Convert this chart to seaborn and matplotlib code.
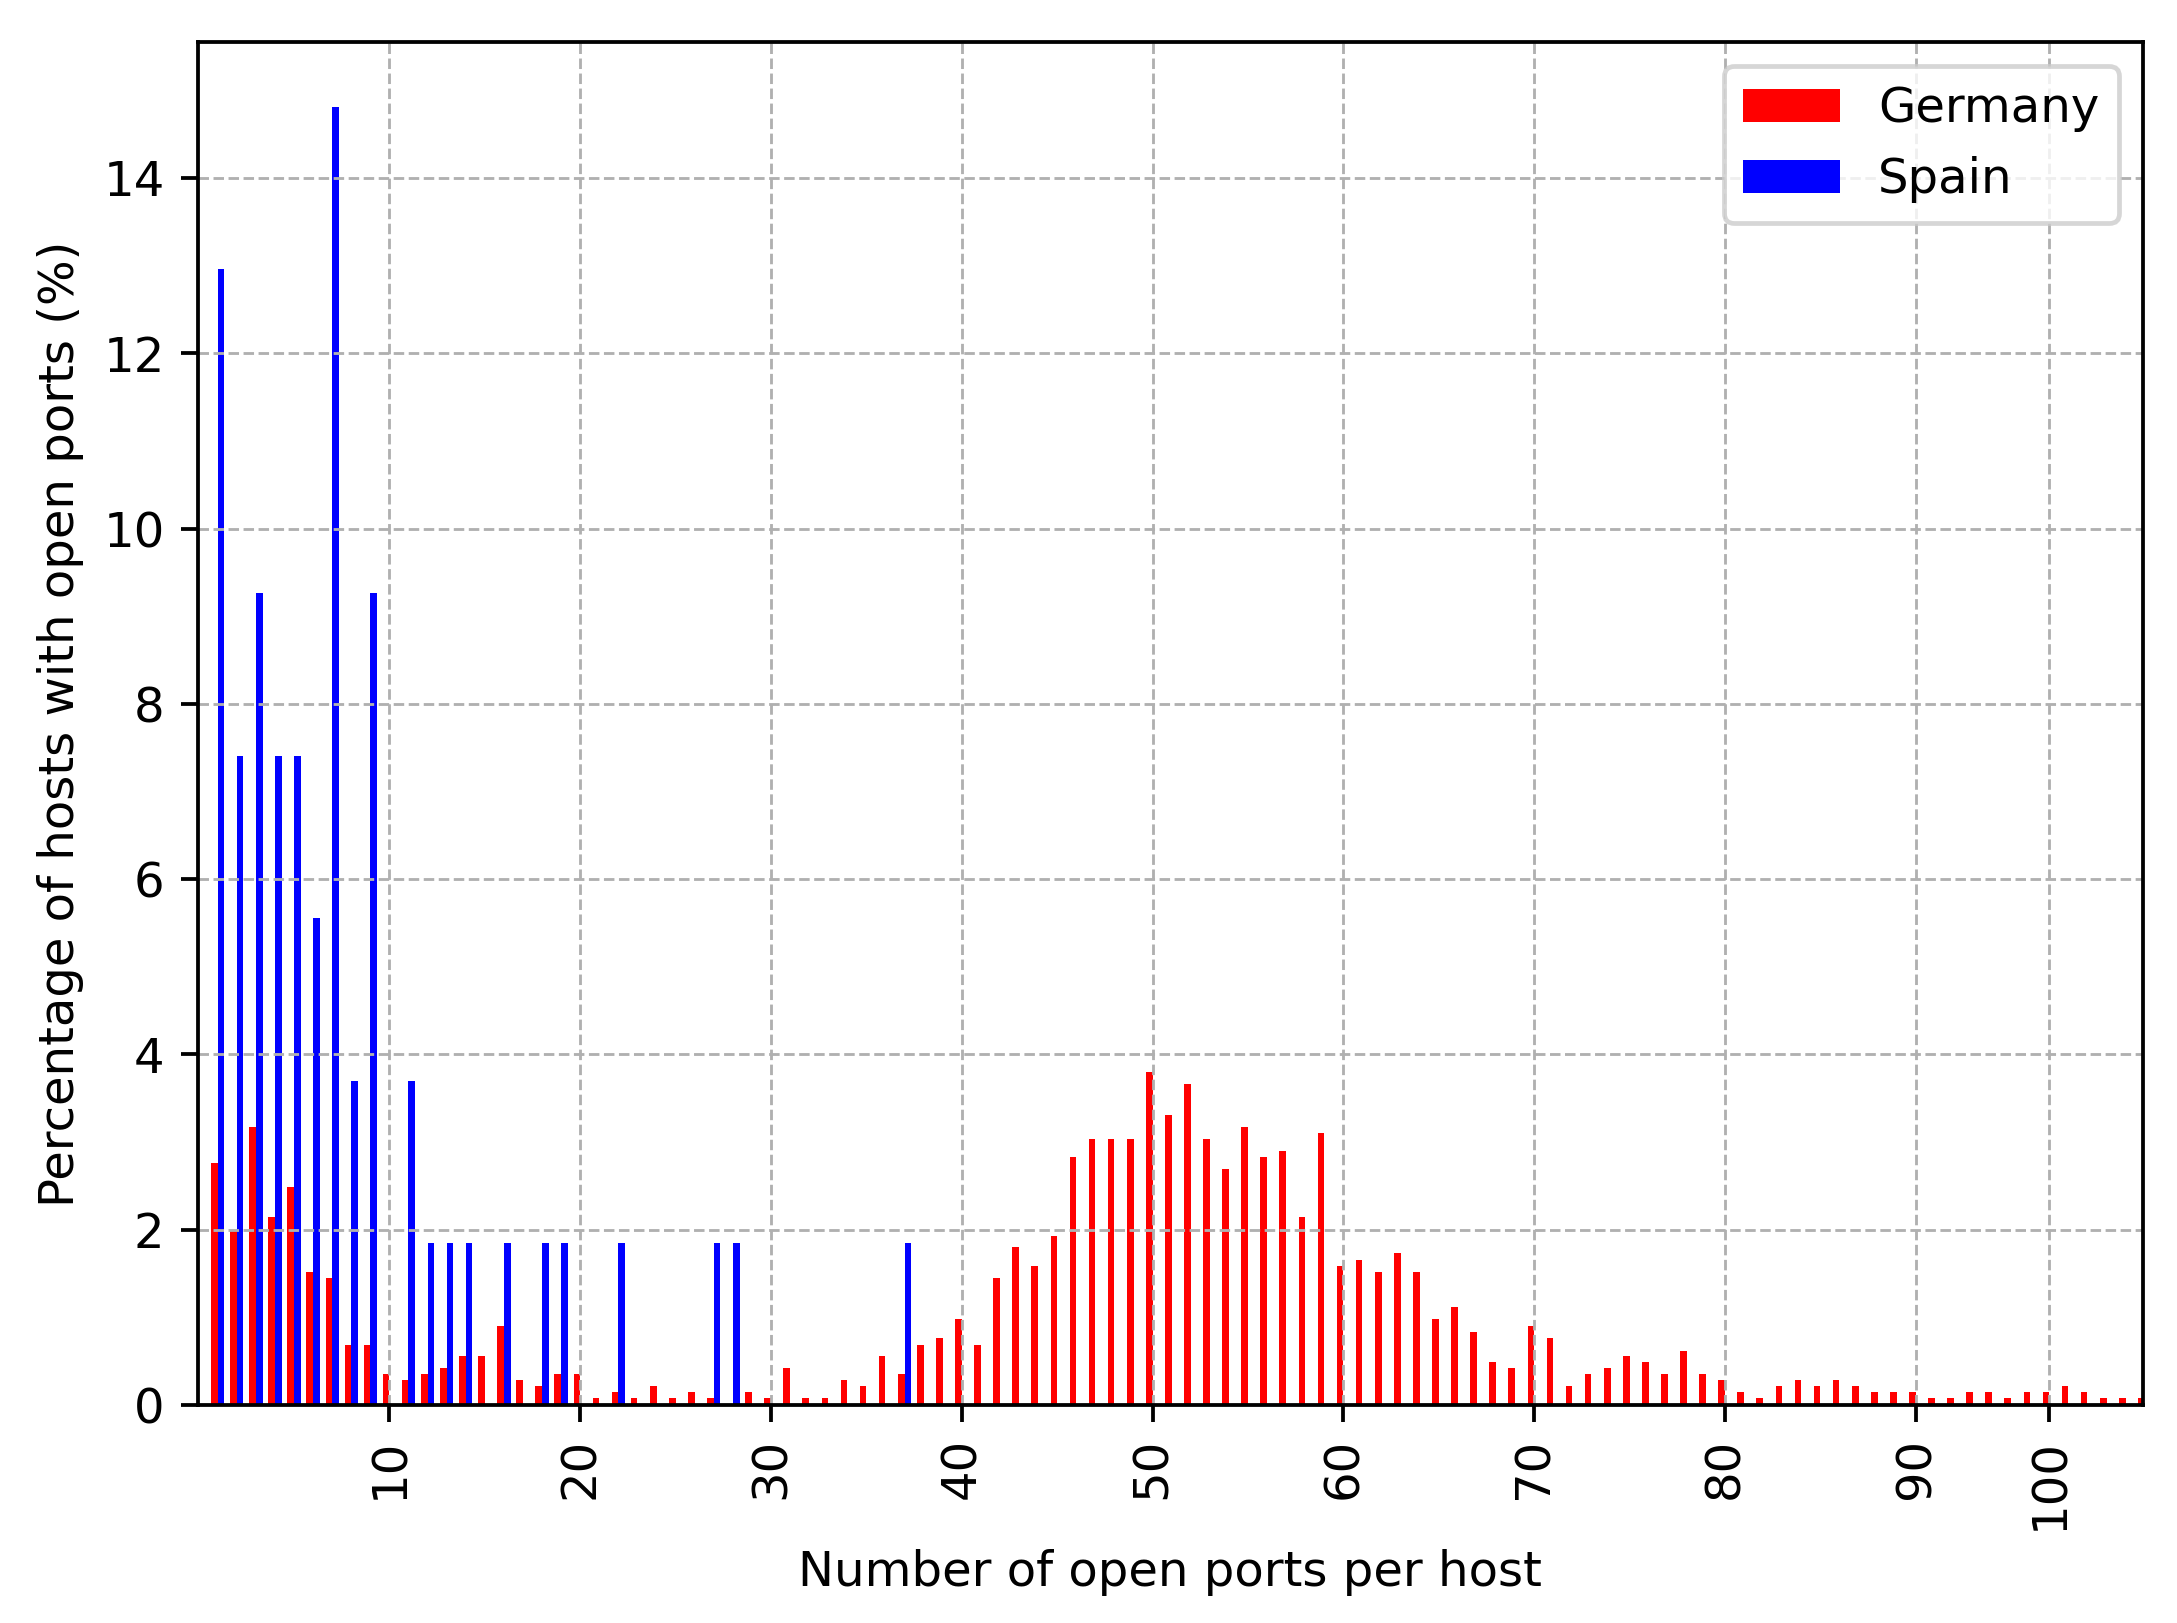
import matplotlib
matplotlib.use("Agg")
import matplotlib.pyplot as plt
import seaborn as sns
import pandas as pd

# Number of open ports per host (categories on the x axis, in order)
ports = list(range(1, 91)) + [91, 92, 93, 95, 96, 98, 100, 101, 102, 104, 106, 110]

# Percentage of hosts, Germany
germany = [
    2.76, 1.99, 3.17, 2.14, 2.49, 1.52, 1.45, 0.69, 0.69, 0.35,
    0.28, 0.35, 0.42, 0.56, 0.56, 0.90, 0.28, 0.22, 0.35, 0.35,
    0.08, 0.15, 0.08, 0.22, 0.08, 0.15, 0.08, 0.00, 0.15, 0.08,
    0.42, 0.08, 0.08, 0.28, 0.22, 0.56, 0.35, 0.69, 0.76, 0.98,
    0.69, 1.45, 1.80, 1.59, 1.93, 2.83, 3.03, 3.03, 3.03, 3.80,
    3.31, 3.66, 3.03, 2.69, 3.17, 2.83, 2.90, 2.14, 3.10, 1.59,
    1.66, 1.52, 1.73, 1.52, 0.98, 1.12, 0.83, 0.49, 0.42, 0.90,
    0.76, 0.22, 0.35, 0.42, 0.56, 0.49, 0.35, 0.62, 0.35, 0.28,
    0.15, 0.08, 0.22, 0.28, 0.22, 0.28, 0.22, 0.15, 0.15, 0.15,
    0.08, 0.08, 0.15, 0.15, 0.08, 0.15, 0.15, 0.22, 0.15, 0.08,
    0.08, 0.08,
]

# Percentage of hosts, Spain
spain = [
    12.96, 7.41, 9.26, 7.41, 7.41, 5.56, 14.81, 3.70, 9.26, 0.00,
    3.70, 1.85, 1.85, 1.85, 0.00, 1.85, 0.00, 1.85, 1.85, 0.00,
    0.00, 1.85, 0.00, 0.00, 0.00, 0.00, 1.85, 1.85, 0.00, 0.00,
    0.00, 0.00, 0.00, 0.00, 0.00, 0.00, 1.85, 0.00, 0.00, 0.00,
] + [0.00] * 62

tick_values = list(range(10, 101, 10))

n = len(ports)
df = pd.DataFrame({
    "ports": ports * 2,
    "pct": germany + spain,
    "country": ["Germany"] * n + ["Spain"] * n,
})

plt.rcParams["font.size"] = 10.2

fig = plt.figure(figsize=(2177 / 340, 1623 / 340), dpi=340)
ax = fig.add_axes([0.0908, 0.1343, 0.8935, 0.8398])

sns.barplot(data=df, x="ports", y="pct", hue="country", order=ports,
            hue_order=["Germany", "Spain"],
            palette={"Germany": "red", "Spain": "blue"},
            saturation=1, width=0.7, errorbar=None, linewidth=0, ax=ax)

sns.move_legend(ax, "upper right", title=None)

ax.set_xticks([ports.index(v) for v in tick_values])
ax.set_xticklabels([str(v) for v in tick_values], rotation=90)
ax.set_xlim(-1.05, 100.9)

ax.grid(True, linestyle="--", linewidth=0.6, color="#b0b0b0")
ax.set_xlabel("Number of open ports per host")
ax.set_ylabel("Percentage of hosts with open ports (%)")

fig.savefig("out.png", dpi=340)
